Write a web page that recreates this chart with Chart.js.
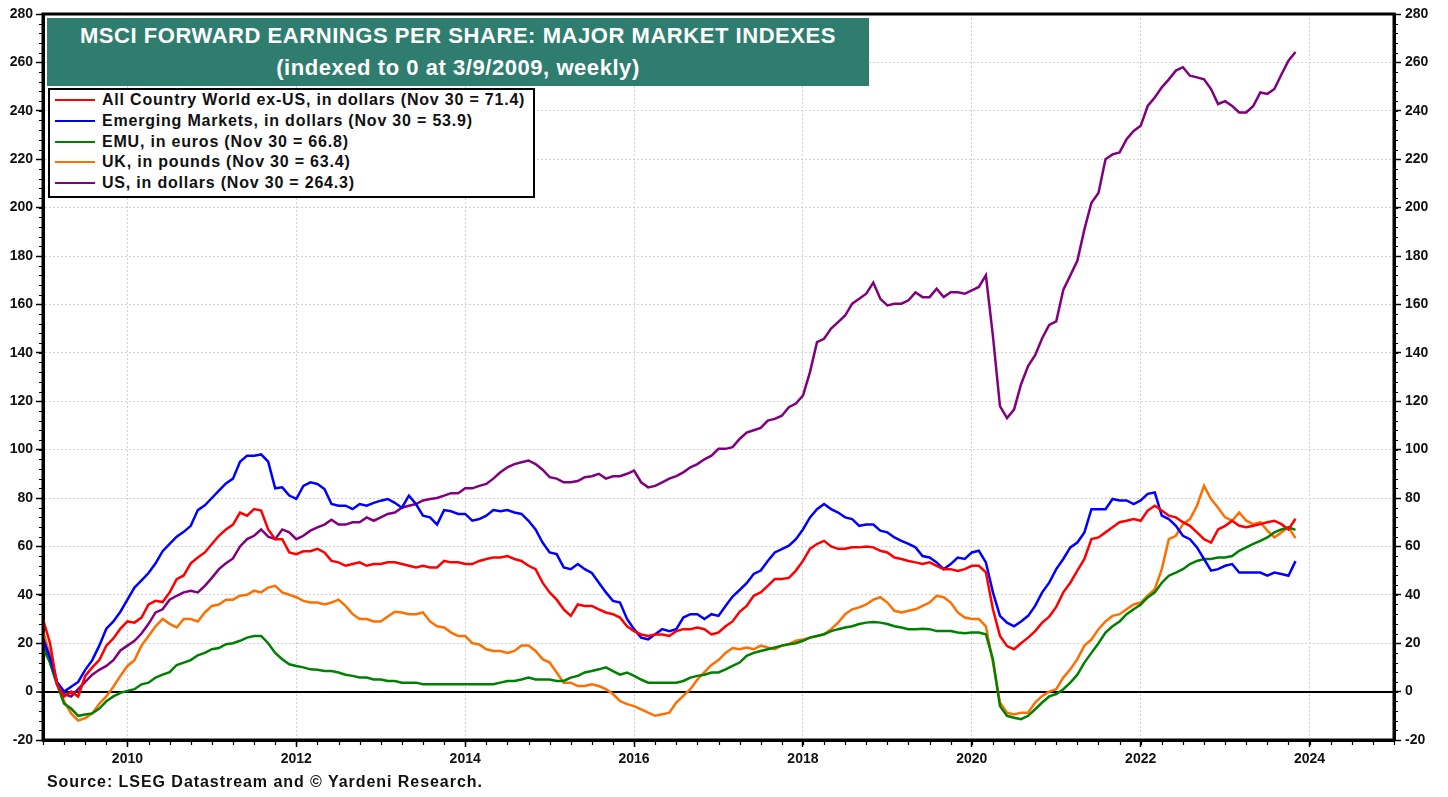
<!DOCTYPE html>
<html>
<head>
<meta charset="utf-8">
<script src="https://cdn.jsdelivr.net/npm/chart.js@4.4.1/dist/chart.umd.min.js"></script>
<style>
  body { margin: 0; background: #fff; }
  #wrap { position: relative; width: 1448px; height: 797px; font-family: Arial, "Liberation Sans", sans-serif; }
  #c { position: absolute; left: 0; top: 0; }
  #title { position: absolute; left: 47px; top: 18px; width: 822px; height: 68px; background: #2e7d6f; color: #fff;
           font-weight: bold; font-size: 22px; letter-spacing: 0.55px; text-align: center; line-height: 32px;
           padding-top: 2px; box-sizing: border-box; }
  #legend { position: absolute; left: 48px; top: 88px; width: 487px; height: 110px; border: 2px solid #000;
            box-sizing: border-box; background: #fff; padding: 0 0 0 5px; }
  .item { display: flex; align-items: center; height: 20.7px; font-weight: bold; font-size: 16px; letter-spacing: 0.8px;
          color: #111; white-space: nowrap; }
  .swatch { width: 40px; height: 2px; margin-right: 7px; }
  #source { position: absolute; left: 47px; top: 773px; font-weight: bold; font-size: 16px; letter-spacing: 0.95px; color: #111; }
</style>
</head>
<body>
<div id="wrap">
  <canvas id="c" width="1448" height="797"></canvas>
  <div id="title">MSCI FORWARD EARNINGS PER SHARE: MAJOR MARKET INDEXES<br>(indexed to 0 at 3/9/2009, weekly)</div>
  <div id="legend"></div>
  <div id="source">Source: LSEG Datastream and © Yardeni Research.</div>
</div>
<script>
// monthly readings, first value = January 2009
const startYear = 2009;

const acwiExUs = [
  30, 20, 3, -2, 0, -2, 6.5, 10, 13, 19, 22, 26,
  29, 28.5, 30.6, 36, 37.5, 37, 41, 46.5, 48, 53, 55.4, 57.5,
  61, 64.4, 67, 69, 74, 72.7, 75.4, 74.8, 67, 63, 63, 57.5,
  56.8, 58, 58, 59, 57.5, 54, 53.4, 52, 52.7, 53.4, 52, 52.7,
  52.7, 53.4, 53.4, 52.7, 52, 51.3, 52, 51.3, 51.3, 54, 53.4, 53.4,
  52.7, 52.7, 54, 54.8, 55.4, 55.4, 56, 54.8, 54, 52, 50.6, 45,
  41, 38, 34, 31.3, 36, 35.4, 35.4, 34, 32.7, 32, 30.6, 27,
  25, 23.6, 23, 23.6, 23.6, 23, 25, 25.8, 25.8, 26.5, 25.8, 23.6,
  24.4, 27, 29, 33, 35.4, 39.6, 41, 43.7, 46.5, 46.5, 47, 50,
  54, 59, 61, 62.3, 60, 59, 59, 59.6, 59.6, 60, 59.6, 58.2,
  57.5, 55.4, 54.8, 54, 53.4, 52.7, 53.4, 52, 50.6, 50.6, 49.9, 50.6,
  52, 52, 49.3, 34, 23, 18.8, 17.5, 20, 22.3, 25, 28.5, 31,
  35, 41, 45, 50, 54.8, 63, 63.7, 65.8, 67.9, 70, 70.6, 71.3,
  70.6, 74.8, 76.8, 74.8, 72.7, 72, 70, 68.5, 65.8, 63, 61.6, 67,
  68.5, 70.6, 68.5, 67.9, 68.5, 69.2, 70, 70.6, 69.2, 67, 71.4
];

const emergingMarkets = [
  22, 14, 4, 0, 2, 4, 9, 13, 19, 26, 29, 33,
  38, 43, 46, 49, 53, 58, 61, 64, 66, 68.5, 75, 77,
  80, 83, 86, 88, 95, 97.5, 97.5, 98, 95, 84, 84.4, 81,
  79.6, 85, 86.5, 85.8, 83.7, 77.5, 76.8, 76.8, 75.4, 77.5, 76.8, 78,
  78.9, 79.6, 78, 76, 81, 77.5, 72.7, 72, 69, 75, 74.5, 73.4,
  73.4, 70.6, 71.3, 72.7, 75, 74.5, 75, 74, 73.4, 70.6, 67, 61.6,
  57.5, 56.8, 51.3, 50.6, 52.7, 50.6, 49, 45, 41, 37.5, 36.8, 30,
  25.8, 22.3, 21.6, 23.7, 25.8, 25, 25.8, 30.6, 32, 32, 30, 32,
  31.3, 35.4, 39.3, 42, 44.8, 48.6, 50, 54, 57.5, 58.9, 60.3, 63,
  67, 72, 75.4, 77.5, 75.4, 74, 72, 71.3, 68.5, 69, 69, 66.5,
  65.8, 63.7, 62.3, 61, 59.6, 56, 55.4, 53.4, 50.6, 52.7, 55.4, 54.8,
  57.5, 58.2, 53.4, 41, 31.3, 28.5, 27, 29, 31.3, 35.4, 41, 45,
  50.6, 54.8, 59.6, 61.6, 65.8, 75.4, 75.4, 75.4, 79.6, 79, 79, 77.5,
  79, 81.7, 82.3, 72.7, 71.3, 68.5, 64.4, 63, 59.6, 54.8, 50, 50.6,
  52, 52.7, 49.2, 49.2, 49.2, 49.2, 47.9, 49.2, 48.6, 47.9, 53.9
];

const emu = [
  18, 12, 3, -5, -7, -10, -9.5, -9, -7, -4, -2, -0.5,
  0.3, 1, 3, 3.7, 5.8, 7, 8, 11, 12, 13, 15, 16,
  17.5, 18, 19.6, 20, 21, 22.3, 23, 23, 20, 16, 13.4, 11.3,
  10.6, 10, 9.2, 9, 8.5, 8.5, 7.9, 7, 6.5, 5.8, 5.8, 5,
  5, 4.4, 4.4, 3.7, 3.7, 3.7, 3, 3, 3, 3, 3, 3,
  3, 3, 3, 3, 3, 3.7, 4.4, 4.4, 5, 5.8, 5, 5,
  5, 4.4, 4.4, 5.8, 6.5, 7.9, 8.5, 9.2, 10, 8.5, 7, 7.9,
  6.5, 5, 3.7, 3.7, 3.7, 3.7, 3.7, 4.4, 5.8, 6.5, 7, 7.9,
  7.9, 9.2, 10.6, 12, 14.8, 16, 16.8, 17.5, 18.2, 19, 19.6, 20,
  21, 22.3, 23, 23.7, 25, 25.8, 26.5, 27, 27.9, 28.5, 28.8, 28.5,
  27.9, 27, 26.5, 25.8, 25.8, 26, 25.8, 25, 25, 25, 24.4, 24.1,
  24.4, 24.4, 23.7, 13.4, -6, -10, -10.8, -11.4, -10, -7.3, -4.5, -2,
  -1, 1, 3.7, 7, 12, 16, 20, 24.4, 27, 29, 32, 34,
  36, 38.9, 41, 45, 47.9, 49.2, 50.6, 52.7, 54, 54.8, 54.8, 55.4,
  55.4, 56, 58.2, 59.6, 61, 62.3, 63.7, 65.8, 67, 67.9, 66.8
];

const uk = [
  25, 15, 3, -4, -9, -12, -11, -9, -5, -2, 2, 6.5,
  10.6, 13, 19, 23, 27, 30, 28, 26.5, 30, 30, 29, 32.7,
  35.4, 36, 38, 38, 39.6, 40, 41.7, 41, 43, 43.7, 41, 40,
  39, 37.5, 36.8, 36.8, 36, 36.8, 38, 35.4, 32, 30, 30, 29,
  29, 31, 33, 32.7, 32, 32, 32.7, 29, 27, 26.5, 24.4, 23,
  23, 20, 19.5, 17.5, 16.8, 16.8, 16, 16.8, 19, 19, 16.8, 13.4,
  12, 7.9, 3.7, 3.7, 2.3, 2.3, 3, 2.3, 1, -1, -3.9, -5.2,
  -6, -7.3, -8.7, -10, -9.4, -8.7, -4.5, -1.8, 1, 5, 8, 11,
  13, 16, 18, 17.5, 18.2, 17.5, 19, 18.2, 17.5, 19, 19.6, 21,
  21.5, 22.3, 23, 23.7, 25.8, 28.5, 32, 34, 34.8, 36, 38, 39,
  36.8, 33.4, 32.7, 33.4, 34, 35.4, 36.8, 39.6, 39, 36.8, 32.7, 30.6,
  30, 30, 27, 12, -4.5, -8.7, -9.4, -8.7, -8.7, -4.5, -1.8, 0,
  1, 5.8, 9.2, 13.4, 19, 21.5, 25.8, 29, 31.3, 32, 34, 36,
  36.8, 39.6, 42.3, 50.6, 63, 64.4, 69.2, 71.3, 76.8, 85, 79.6, 76,
  72, 70.6, 74, 70.6, 69.2, 70, 66.5, 63.7, 65.8, 67.9, 63.4
];

const us = [
  22, 12, 3, -1, -2, 1, 4, 7, 9, 10.6, 13, 17,
  19, 21, 24, 28, 32.7, 34, 38, 39.6, 41, 41.7, 41, 43.7,
  47, 50.6, 53, 55, 60, 63, 64.4, 67, 64, 63, 67, 65.8,
  63, 64.4, 66.5, 67.9, 69, 71, 69, 69, 70, 70, 72, 70.6,
  72, 73.4, 74, 76, 76.8, 77.5, 79, 79.6, 80, 81, 82, 82,
  84, 84, 85, 85.8, 88, 90.6, 92.7, 94, 94.8, 95.5, 94, 91.7,
  88.6, 88, 86.5, 86.5, 87, 88.6, 89, 90, 88, 89, 89, 90,
  91.3, 86.5, 84.4, 85, 86.5, 88, 89, 90.6, 92.7, 94, 96, 97.5,
  100.3, 100.3, 101, 104.4, 107, 108, 109, 112, 112.7, 114, 117.5, 119,
  122.3, 132, 144.4, 145.8, 150, 152.7, 155.4, 160.3, 162.3, 164.4, 169, 162.3,
  159.6, 160.3, 160.3, 161.7, 165, 163, 163, 166.5, 163, 165, 165, 164.4,
  165.8, 167.2, 172, 147, 118, 113, 116.5, 127, 134.5, 139, 146, 151.5,
  153, 166, 172, 178, 191, 202, 206, 220, 222, 222.8, 228.3, 231.7,
  233.8, 242, 245.5, 249.7, 253, 256.6, 258, 254.5, 253.8, 253, 249, 242.8,
  244, 242, 239.3, 239.3, 242, 247.6, 247, 249, 255, 260.7, 264.3
];

const seriesLabels = [
  'All Country World ex-US, in dollars (Nov 30 = 71.4)',
  'Emerging Markets, in dollars (Nov 30 = 53.9)',
  'EMU, in euros (Nov 30 = 66.8)',
  'UK, in pounds (Nov 30 = 63.4)',
  'US, in dollars (Nov 30 = 264.3)'
];
const seriesColors = ['#ff0000', '#0000ff', '#008000', '#ff6f00', '#800080'];
const yearTicks = [2010, 2012, 2014, 2016, 2018, 2020, 2022, 2024];

const FONT = 'Arial, "Liberation Sans", sans-serif';
Chart.defaults.font.family = FONT;

const toPoints = vals => vals.map((v, i) => ({ x: startYear + i / 12, y: v }));
const allSeries = [acwiExUs, emergingMarkets, emu, uk, us];

// legend (html)
const legendEl = document.getElementById('legend');
seriesLabels.forEach((lab, i) => {
  const row = document.createElement('div');
  row.className = 'item';
  row.innerHTML = '<span class="swatch" style="background:' + seriesColors[i] + '"></span>' + lab;
  legendEl.appendChild(row);
});

const minorTicks = {
  id: 'minorTicks',
  afterDraw(chart) {
    const { ctx, chartArea: a, scales } = chart;
    ctx.save();
    ctx.strokeStyle = '#000';
    ctx.lineWidth = 1.2;
    ctx.beginPath();
    for (let q = 2009; q <= 2025; q += 0.25) {
      const px = Math.round(scales.x.getPixelForValue(q)) + 0.5;
      ctx.moveTo(px, a.bottom);
      ctx.lineTo(px, a.bottom + 5);
    }
    for (let v = -20; v <= 280; v += 4) {
      const py = Math.round(scales.y.getPixelForValue(v)) + 0.5;
      ctx.moveTo(a.left - 4, py);
      ctx.lineTo(a.left, py);
      ctx.moveTo(a.right, py);
      ctx.lineTo(a.right + 4, py);
    }
    ctx.stroke();
    // frame
    ctx.lineWidth = 3;
    ctx.strokeRect(a.left, a.top, a.right - a.left, a.bottom - a.top);
    ctx.restore();
  }
};

const gridColor = c => (c.tick && c.tick.value === 0) ? '#000' : '#d2d2d2';
const gridWidth = c => (c.tick && c.tick.value === 0) ? 2 : 1;
const gridDash = c => (c.tick && c.tick.value === 0) ? [] : [2, 2];
const tickFont = { weight: 'bold', size: 14, family: FONT };

new Chart(document.getElementById('c').getContext('2d'), {
  type: 'line',
  data: {
    datasets: allSeries.map((vals, i) => ({
      label: seriesLabels[i],
      data: toPoints(vals),
      borderColor: seriesColors[i],
      backgroundColor: seriesColors[i],
      borderWidth: 2.5,
      pointRadius: 0,
      tension: 0,
      fill: false
    }))
  },
  options: {
    responsive: false,
    animation: false,
    layout: { padding: { top: 14 } },
    plugins: { legend: { display: false }, tooltip: { enabled: false } },
    scales: {
      x: {
        type: 'linear',
        min: 2009,
        max: 2025,
        afterBuildTicks: s => { s.ticks = yearTicks.map(v => ({ value: v })); },
        afterFit: s => { s.height = 57; },
        grid: { color: '#d2d2d2', lineWidth: 1, tickLength: 7, tickColor: '#000', tickWidth: 1.5, tickBorderDash: [] },
        border: { color: '#000', width: 3, dash: [2, 2] },
        ticks: { color: '#111', font: tickFont, padding: 4, maxRotation: 0, callback: v => String(v) }
      },
      y: {
        position: 'left',
        min: -20,
        max: 280,
        afterFit: s => { s.width = 43; },
        grid: { color: gridColor, lineWidth: gridWidth, tickLength: 7, tickColor: '#000', tickWidth: 1.5, tickBorderDash: [] },
        border: { color: '#000', width: 3, dash: gridDash },
        ticks: { stepSize: 20, color: '#111', font: tickFont, padding: 3 }
      },
      y2: {
        position: 'right',
        min: -20,
        max: 280,
        afterFit: s => { s.width = 54; },
        grid: { drawOnChartArea: false, tickLength: 7, tickColor: '#000', tickWidth: 1.5 },
        border: { color: '#000', width: 3 },
        ticks: { stepSize: 20, color: '#111', font: tickFont, padding: 4 }
      }
    }
  },
  plugins: [minorTicks]
});
</script>
</body>
</html>
